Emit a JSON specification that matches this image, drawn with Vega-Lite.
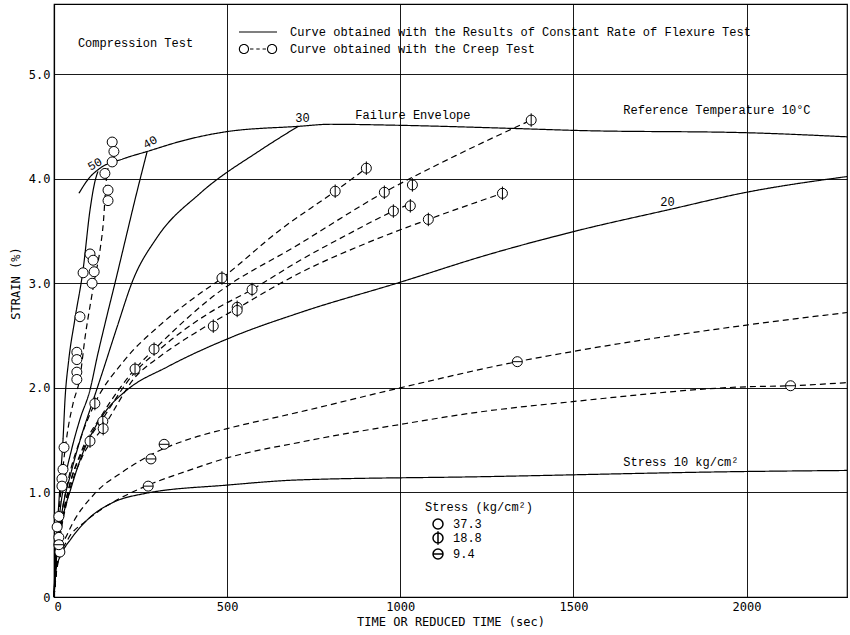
{
  "$schema": "https://vega.github.io/schema/vega-lite/v6.json",
  "width": 793,
  "height": 593,
  "autosize": {"type": "none"},
  "padding": {"left": 54, "top": 4, "right": 3, "bottom": 38},
  "background": "white",
  "config": {
    "view": {"stroke": "black", "strokeWidth": 1.2},
    "axis": {
      "domainColor": "black", "domainWidth": 1.2,
      "gridColor": "black", "gridWidth": 0.9, "gridOpacity": 1,
      "ticks": false,
      "labelFont": "DejaVu Sans Mono", "labelFontSize": 12, "labelColor": "black", "labelPadding": 4,
      "titleFont": "DejaVu Sans Mono", "titleFontSize": 12, "titleFontWeight": "normal", "titleColor": "black"
    },
    "legend": {
      "labelFont": "Liberation Mono", "labelFontSize": 12, "labelColor": "black",
      "titleFont": "Liberation Mono", "titleFontSize": 12, "titleFontWeight": "normal", "titleColor": "black",
      "padding": 0
    },
    "text": {"font": "Liberation Mono", "fontSize": 12, "color": "black"}
  },
  "datasets": {
    "curves": [
      {"curve": "f50", "kind": "flex", "x": 0, "y": 0},
      {"curve": "f50", "kind": "flex", "x": 3, "y": 0.3},
      {"curve": "f50", "kind": "flex", "x": 8, "y": 0.6},
      {"curve": "f50", "kind": "flex", "x": 14, "y": 0.9},
      {"curve": "f50", "kind": "flex", "x": 20, "y": 1.2},
      {"curve": "f50", "kind": "flex", "x": 26, "y": 1.5},
      {"curve": "f50", "kind": "flex", "x": 32, "y": 1.9},
      {"curve": "f50", "kind": "flex", "x": 42, "y": 2.25},
      {"curve": "f50", "kind": "flex", "x": 60, "y": 2.65},
      {"curve": "f50", "kind": "flex", "x": 84, "y": 3.13},
      {"curve": "f50", "kind": "flex", "x": 104, "y": 3.7},
      {"curve": "f50", "kind": "flex", "x": 118, "y": 3.97},
      {"curve": "f50", "kind": "flex", "x": 127, "y": 4.07},

      {"curve": "f40", "kind": "flex", "x": 0, "y": 0},
      {"curve": "f40", "kind": "flex", "x": 5, "y": 0.35},
      {"curve": "f40", "kind": "flex", "x": 15, "y": 0.75},
      {"curve": "f40", "kind": "flex", "x": 30, "y": 1.1},
      {"curve": "f40", "kind": "flex", "x": 50, "y": 1.4},
      {"curve": "f40", "kind": "flex", "x": 75, "y": 1.7},
      {"curve": "f40", "kind": "flex", "x": 104, "y": 1.98},
      {"curve": "f40", "kind": "flex", "x": 125, "y": 2.3},
      {"curve": "f40", "kind": "flex", "x": 150, "y": 2.65},
      {"curve": "f40", "kind": "flex", "x": 176, "y": 3.0},
      {"curve": "f40", "kind": "flex", "x": 205, "y": 3.4},
      {"curve": "f40", "kind": "flex", "x": 234, "y": 3.8},
      {"curve": "f40", "kind": "flex", "x": 269, "y": 4.26},

      {"curve": "f30", "kind": "flex", "x": 0, "y": 0},
      {"curve": "f30", "kind": "flex", "x": 8, "y": 0.45},
      {"curve": "f30", "kind": "flex", "x": 25, "y": 0.85},
      {"curve": "f30", "kind": "flex", "x": 50, "y": 1.2},
      {"curve": "f30", "kind": "flex", "x": 80, "y": 1.55},
      {"curve": "f30", "kind": "flex", "x": 110, "y": 1.85},
      {"curve": "f30", "kind": "flex", "x": 140, "y": 2.15},
      {"curve": "f30", "kind": "flex", "x": 182, "y": 2.58},
      {"curve": "f30", "kind": "flex", "x": 228, "y": 3.03},
      {"curve": "f30", "kind": "flex", "x": 298, "y": 3.44},
      {"curve": "f30", "kind": "flex", "x": 422, "y": 3.86},
      {"curve": "f30", "kind": "flex", "x": 595, "y": 4.27},
      {"curve": "f30", "kind": "flex", "x": 705, "y": 4.5},

      {"curve": "f20", "kind": "flex", "x": 0, "y": 0},
      {"curve": "f20", "kind": "flex", "x": 8, "y": 0.4},
      {"curve": "f20", "kind": "flex", "x": 25, "y": 0.75},
      {"curve": "f20", "kind": "flex", "x": 50, "y": 1.05},
      {"curve": "f20", "kind": "flex", "x": 80, "y": 1.35},
      {"curve": "f20", "kind": "flex", "x": 110, "y": 1.57},
      {"curve": "f20", "kind": "flex", "x": 150, "y": 1.78},
      {"curve": "f20", "kind": "flex", "x": 211, "y": 1.98},
      {"curve": "f20", "kind": "flex", "x": 327, "y": 2.2},
      {"curve": "f20", "kind": "flex", "x": 517, "y": 2.49},
      {"curve": "f20", "kind": "flex", "x": 711, "y": 2.72},
      {"curve": "f20", "kind": "flex", "x": 1000, "y": 3.01},
      {"curve": "f20", "kind": "flex", "x": 1250, "y": 3.27},
      {"curve": "f20", "kind": "flex", "x": 1520, "y": 3.51},
      {"curve": "f20", "kind": "flex", "x": 1771, "y": 3.7},
      {"curve": "f20", "kind": "flex", "x": 2000, "y": 3.87},
      {"curve": "f20", "kind": "flex", "x": 2290, "y": 4.02},

      {"curve": "f10", "kind": "flex", "x": 0, "y": 0},
      {"curve": "f10", "kind": "flex", "x": 5, "y": 0.25},
      {"curve": "f10", "kind": "flex", "x": 23, "y": 0.42},
      {"curve": "f10", "kind": "flex", "x": 50, "y": 0.56},
      {"curve": "f10", "kind": "flex", "x": 100, "y": 0.75},
      {"curve": "f10", "kind": "flex", "x": 168, "y": 0.9},
      {"curve": "f10", "kind": "flex", "x": 263, "y": 0.99},
      {"curve": "f10", "kind": "flex", "x": 500, "y": 1.07},
      {"curve": "f10", "kind": "flex", "x": 711, "y": 1.12},
      {"curve": "f10", "kind": "flex", "x": 1231, "y": 1.15},
      {"curve": "f10", "kind": "flex", "x": 2000, "y": 1.2},
      {"curve": "f10", "kind": "flex", "x": 2290, "y": 1.21},

      {"curve": "env", "kind": "flex", "x": 72, "y": 3.86},
      {"curve": "env", "kind": "flex", "x": 100, "y": 4.0},
      {"curve": "env", "kind": "flex", "x": 133, "y": 4.1},
      {"curve": "env", "kind": "flex", "x": 200, "y": 4.19},
      {"curve": "env", "kind": "flex", "x": 269, "y": 4.26},
      {"curve": "env", "kind": "flex", "x": 380, "y": 4.37},
      {"curve": "env", "kind": "flex", "x": 500, "y": 4.45},
      {"curve": "env", "kind": "flex", "x": 705, "y": 4.5},
      {"curve": "env", "kind": "flex", "x": 798, "y": 4.52},
      {"curve": "env", "kind": "flex", "x": 1000, "y": 4.51},
      {"curve": "env", "kind": "flex", "x": 1327, "y": 4.48},
      {"curve": "env", "kind": "flex", "x": 1520, "y": 4.46},
      {"curve": "env", "kind": "flex", "x": 1991, "y": 4.44},
      {"curve": "env", "kind": "flex", "x": 2290, "y": 4.4},

      {"curve": "c37", "kind": "creep", "x": 0, "y": 0},
      {"curve": "c37", "kind": "creep", "x": 4, "y": 0.3},
      {"curve": "c37", "kind": "creep", "x": 10, "y": 0.6},
      {"curve": "c37", "kind": "creep", "x": 18, "y": 0.95},
      {"curve": "c37", "kind": "creep", "x": 28, "y": 1.3},
      {"curve": "c37", "kind": "creep", "x": 40, "y": 1.6},
      {"curve": "c37", "kind": "creep", "x": 55, "y": 1.85},
      {"curve": "c37", "kind": "creep", "x": 75, "y": 2.1},
      {"curve": "c37", "kind": "creep", "x": 90, "y": 2.49},
      {"curve": "c37", "kind": "creep", "x": 105, "y": 2.8},
      {"curve": "c37", "kind": "creep", "x": 118, "y": 3.05},
      {"curve": "c37", "kind": "creep", "x": 133, "y": 3.32},
      {"curve": "c37", "kind": "creep", "x": 143, "y": 3.6},
      {"curve": "c37", "kind": "creep", "x": 150, "y": 3.95},
      {"curve": "c37", "kind": "creep", "x": 156, "y": 4.1},

      {"curve": "b1", "kind": "creep", "x": 0, "y": 0},
      {"curve": "b1", "kind": "creep", "x": 15, "y": 0.6},
      {"curve": "b1", "kind": "creep", "x": 40, "y": 1.1},
      {"curve": "b1", "kind": "creep", "x": 75, "y": 1.5},
      {"curve": "b1", "kind": "creep", "x": 118, "y": 1.85},
      {"curve": "b1", "kind": "creep", "x": 200, "y": 2.25},
      {"curve": "b1", "kind": "creep", "x": 306, "y": 2.6},
      {"curve": "b1", "kind": "creep", "x": 400, "y": 2.85},
      {"curve": "b1", "kind": "creep", "x": 485, "y": 3.05},
      {"curve": "b1", "kind": "creep", "x": 653, "y": 3.51},
      {"curve": "b1", "kind": "creep", "x": 812, "y": 3.88},
      {"curve": "b1", "kind": "creep", "x": 902, "y": 4.1},

      {"curve": "b2", "kind": "creep", "x": 0, "y": 0},
      {"curve": "b2", "kind": "creep", "x": 15, "y": 0.55},
      {"curve": "b2", "kind": "creep", "x": 40, "y": 1.0},
      {"curve": "b2", "kind": "creep", "x": 80, "y": 1.4},
      {"curve": "b2", "kind": "creep", "x": 140, "y": 1.75},
      {"curve": "b2", "kind": "creep", "x": 234, "y": 2.18},
      {"curve": "b2", "kind": "creep", "x": 306, "y": 2.42},
      {"curve": "b2", "kind": "creep", "x": 450, "y": 2.85},
      {"curve": "b2", "kind": "creep", "x": 711, "y": 3.38},
      {"curve": "b2", "kind": "creep", "x": 954, "y": 3.87},
      {"curve": "b2", "kind": "creep", "x": 1160, "y": 4.22},
      {"curve": "b2", "kind": "creep", "x": 1378, "y": 4.56},

      {"curve": "b3", "kind": "creep", "x": 0, "y": 0},
      {"curve": "b3", "kind": "creep", "x": 15, "y": 0.55},
      {"curve": "b3", "kind": "creep", "x": 40, "y": 1.0},
      {"curve": "b3", "kind": "creep", "x": 80, "y": 1.38},
      {"curve": "b3", "kind": "creep", "x": 140, "y": 1.7},
      {"curve": "b3", "kind": "creep", "x": 234, "y": 2.15},
      {"curve": "b3", "kind": "creep", "x": 306, "y": 2.37},
      {"curve": "b3", "kind": "creep", "x": 450, "y": 2.72},
      {"curve": "b3", "kind": "creep", "x": 572, "y": 2.94},
      {"curve": "b3", "kind": "creep", "x": 711, "y": 3.22},
      {"curve": "b3", "kind": "creep", "x": 850, "y": 3.47},
      {"curve": "b3", "kind": "creep", "x": 980, "y": 3.69},
      {"curve": "b3", "kind": "creep", "x": 1029, "y": 3.76},

      {"curve": "b4", "kind": "creep", "x": 0, "y": 0},
      {"curve": "b4", "kind": "creep", "x": 15, "y": 0.5},
      {"curve": "b4", "kind": "creep", "x": 40, "y": 0.95},
      {"curve": "b4", "kind": "creep", "x": 80, "y": 1.33},
      {"curve": "b4", "kind": "creep", "x": 142, "y": 1.62},
      {"curve": "b4", "kind": "creep", "x": 234, "y": 2.1},
      {"curve": "b4", "kind": "creep", "x": 306, "y": 2.3},
      {"curve": "b4", "kind": "creep", "x": 420, "y": 2.55},
      {"curve": "b4", "kind": "creep", "x": 529, "y": 2.76},
      {"curve": "b4", "kind": "creep", "x": 711, "y": 3.1},
      {"curve": "b4", "kind": "creep", "x": 900, "y": 3.38},
      {"curve": "b4", "kind": "creep", "x": 1081, "y": 3.61},
      {"curve": "b4", "kind": "creep", "x": 1295, "y": 3.86},

      {"curve": "c1", "kind": "creep", "x": 0, "y": 0},
      {"curve": "c1", "kind": "creep", "x": 10, "y": 0.35},
      {"curve": "c1", "kind": "creep", "x": 40, "y": 0.61},
      {"curve": "c1", "kind": "creep", "x": 118, "y": 0.99},
      {"curve": "c1", "kind": "creep", "x": 200, "y": 1.2},
      {"curve": "c1", "kind": "creep", "x": 263, "y": 1.33},
      {"curve": "c1", "kind": "creep", "x": 318, "y": 1.42},
      {"curve": "c1", "kind": "creep", "x": 400, "y": 1.52},
      {"curve": "c1", "kind": "creep", "x": 500, "y": 1.61},
      {"curve": "c1", "kind": "creep", "x": 711, "y": 1.77},
      {"curve": "c1", "kind": "creep", "x": 1000, "y": 2.0},
      {"curve": "c1", "kind": "creep", "x": 1338, "y": 2.25},
      {"curve": "c1", "kind": "creep", "x": 1520, "y": 2.36},
      {"curve": "c1", "kind": "creep", "x": 2000, "y": 2.6},
      {"curve": "c1", "kind": "creep", "x": 2290, "y": 2.72},

      {"curve": "c2", "kind": "creep", "x": 0, "y": 0},
      {"curve": "c2", "kind": "creep", "x": 10, "y": 0.3},
      {"curve": "c2", "kind": "creep", "x": 40, "y": 0.55},
      {"curve": "c2", "kind": "creep", "x": 90, "y": 0.72},
      {"curve": "c2", "kind": "creep", "x": 147, "y": 0.86},
      {"curve": "c2", "kind": "creep", "x": 200, "y": 0.96},
      {"curve": "c2", "kind": "creep", "x": 272, "y": 1.07},
      {"curve": "c2", "kind": "creep", "x": 380, "y": 1.2},
      {"curve": "c2", "kind": "creep", "x": 500, "y": 1.33},
      {"curve": "c2", "kind": "creep", "x": 711, "y": 1.48},
      {"curve": "c2", "kind": "creep", "x": 1000, "y": 1.65},
      {"curve": "c2", "kind": "creep", "x": 1231, "y": 1.77},
      {"curve": "c2", "kind": "creep", "x": 1503, "y": 1.87},
      {"curve": "c2", "kind": "creep", "x": 2000, "y": 2.01},
      {"curve": "c2", "kind": "creep", "x": 2127, "y": 2.02},
      {"curve": "c2", "kind": "creep", "x": 2290, "y": 2.05}
    ],
    "points": [
      {"stress": "37.3", "x": 168, "y": 4.35},
      {"stress": "37.3", "x": 173, "y": 4.26},
      {"stress": "37.3", "x": 168, "y": 4.16},
      {"stress": "37.3", "x": 147, "y": 4.05},
      {"stress": "37.3", "x": 156, "y": 3.89},
      {"stress": "37.3", "x": 156, "y": 3.79},
      {"stress": "37.3", "x": 104, "y": 3.28},
      {"stress": "37.3", "x": 113, "y": 3.22},
      {"stress": "37.3", "x": 84, "y": 3.1},
      {"stress": "37.3", "x": 116, "y": 3.11},
      {"stress": "37.3", "x": 110, "y": 3.0},
      {"stress": "37.3", "x": 75, "y": 2.68},
      {"stress": "37.3", "x": 66, "y": 2.34},
      {"stress": "37.3", "x": 66, "y": 2.27},
      {"stress": "37.3", "x": 66, "y": 2.15},
      {"stress": "37.3", "x": 66, "y": 2.08},
      {"stress": "37.3", "x": 29, "y": 1.43},
      {"stress": "37.3", "x": 26, "y": 1.22},
      {"stress": "37.3", "x": 23, "y": 1.13},
      {"stress": "37.3", "x": 23, "y": 1.06},
      {"stress": "37.3", "x": 14, "y": 0.77},
      {"stress": "37.3", "x": 9, "y": 0.67},
      {"stress": "37.3", "x": 14, "y": 0.57},
      {"stress": "37.3", "x": 17, "y": 0.43},
      {"stress": "18.8", "x": 104, "y": 1.49},
      {"stress": "18.8", "x": 118, "y": 1.85},
      {"stress": "18.8", "x": 141, "y": 1.68},
      {"stress": "18.8", "x": 142, "y": 1.61},
      {"stress": "18.8", "x": 234, "y": 2.18},
      {"stress": "18.8", "x": 289, "y": 2.37},
      {"stress": "18.8", "x": 460, "y": 2.59},
      {"stress": "18.8", "x": 485, "y": 3.05},
      {"stress": "18.8", "x": 529, "y": 2.77},
      {"stress": "18.8", "x": 529, "y": 2.74},
      {"stress": "18.8", "x": 572, "y": 2.94},
      {"stress": "18.8", "x": 812, "y": 3.88},
      {"stress": "18.8", "x": 902, "y": 4.1},
      {"stress": "18.8", "x": 954, "y": 3.87},
      {"stress": "18.8", "x": 980, "y": 3.69},
      {"stress": "18.8", "x": 1029, "y": 3.74},
      {"stress": "18.8", "x": 1035, "y": 3.94},
      {"stress": "18.8", "x": 1081, "y": 3.61},
      {"stress": "18.8", "x": 1295, "y": 3.86},
      {"stress": "18.8", "x": 1378, "y": 4.56},
      {"stress": "9.4", "x": 14, "y": 0.5},
      {"stress": "9.4", "x": 272, "y": 1.06},
      {"stress": "9.4", "x": 280, "y": 1.32},
      {"stress": "9.4", "x": 318, "y": 1.46},
      {"stress": "9.4", "x": 1338, "y": 2.25},
      {"stress": "9.4", "x": 2127, "y": 2.02}
    ],
    "labels": [
      {"text": "Compression Test", "x": 69, "y": 5.3},
      {"text": "Failure Envelope", "x": 870, "y": 4.61},
      {"text": "Reference Temperature 10°C", "x": 1644, "y": 4.66},
      {"text": "30", "x": 697, "y": 4.58},
      {"text": "20", "x": 1751, "y": 3.78},
      {"text": "Stress 10 kg/cm²", "x": 1644, "y": 1.29}
    ],
    "rotlabels": [
      {"text": "50", "x": 118, "y": 4.14},
      {"text": "40", "x": 277, "y": 4.35}
    ]
  },
  "layer": [
    {
      "data": {"name": "curves"},
      "mark": {"type": "line", "interpolate": "monotone", "strokeWidth": 1.2},
      "encoding": {
        "x": {
          "field": "x", "type": "quantitative",
          "scale": {"domain": [0, 2290], "nice": false, "zero": false},
          "axis": {"values": [0, 500, 1000, 1500, 2000], "format": "d", "title": "TIME OR REDUCED TIME (sec)", "titlePadding": 4}
        },
        "y": {
          "field": "y", "type": "quantitative",
          "scale": {"domain": [0, 5.67], "nice": false, "zero": false},
          "axis": {"values": [0, 1, 2, 3, 4, 5], "labelExpr": "datum.value == 0 ? '0' : format(datum.value, '.1f')", "labelFlush": false, "title": "STRAIN (%)", "titlePadding": 6, "titleY": 279}
        },
        "detail": {"field": "curve", "type": "nominal"},
        "strokeDash": {
          "field": "kind", "type": "nominal",
          "scale": {"domain": ["flex", "creep"], "range": [[1, 0], [6, 4]]},
          "legend": null
        },
        "color": {
          "field": "kind", "type": "nominal",
          "scale": {"domain": ["flex", "creep"], "range": ["black", "black"]},
          "legend": {
            "orient": "none", "legendX": 184, "legendY": 8, "title": null,
            "values": ["flex"],
            "labelExpr": "'Curve obtained with the Results of Constant Rate of Flexure Test'",
            "labelLimit": 700,
            "symbolSize": 1444,
            "symbolStrokeWidth": 1.1,
            "labelOffset": 12,
            "encode": {
              "symbols": {
                "update": {
                  "shape": {"value": "M-1,0L1,0"},
                  "stroke": {"value": "black"},
                  "fill": {"value": "transparent"}
                }
              }
            }
          }
        },
        "opacity": {
          "field": "kind", "type": "nominal",
          "scale": {"domain": ["creep", "flex"], "range": [1, 1]},
          "legend": {
            "orient": "none", "legendX": 184, "legendY": 25, "title": null,
            "values": ["creep"],
            "labelExpr": "'Curve obtained with the Creep Test'",
            "labelLimit": 700,
            "symbolSize": 1444,
            "symbolStrokeWidth": 1.1,
            "labelOffset": 12,
            "encode": {
              "symbols": {
                "update": {
                  "shape": {"value": "M-0.5,0A0.24,0.24 0 1,1 -0.98,0A0.24,0.24 0 1,1 -0.5,0M-0.42,0L-0.24,0M-0.09,0L0.09,0M0.24,0L0.42,0M0.98,0A0.24,0.24 0 1,1 0.5,0A0.24,0.24 0 1,1 0.98,0"},
                  "stroke": {"value": "black"},
                  "fill": {"value": "transparent"},
                  "opacity": {"value": 1},
                  "strokeDash": {"value": [1, 0]}
                }
              }
            }
          }
        }
      }
    },
    {
      "data": {"name": "points"},
      "mark": {"type": "point", "filled": true, "fill": "white", "stroke": "black", "strokeWidth": 1, "size": 100, "opacity": 1},
      "encoding": {
        "x": {"field": "x", "type": "quantitative"},
        "y": {"field": "y", "type": "quantitative"},
        "shape": {
          "field": "stress", "type": "nominal",
          "scale": {
            "domain": ["37.3", "18.8", "9.4"],
            "range": [
              "M1,0A1,1 0 1,1 -1,0A1,1 0 1,1 1,0Z",
              "M1,0A1,1 0 1,1 -1,0A1,1 0 1,1 1,0ZM0,-1.35L0,1.35",
              "M1,0A1,1 0 1,1 -1,0A1,1 0 1,1 1,0ZM-1,0L1,0"
            ]
          },
          "legend": {
            "orient": "none", "legendX": 371, "legendY": 498,
            "title": "Stress (kg/cm²)",
            "titlePadding": 4,
            "symbolSize": 100,
            "symbolOffset": 7,
            "labelOffset": 9,
            "rowPadding": -5,
            "labelExpr": "datum.label == '9.4' ? '\u00a09.4' : datum.label",
            "encode": {
              "symbols": {
                "update": {
                  "fill": {"value": "white"},
                  "stroke": {"value": "black"},
                  "strokeWidth": {"value": 1},
                  "opacity": {"value": 1},
                  "fillOpacity": {"value": 1},
                  "strokeOpacity": {"value": 1}
                }
              }
            }
          }
        }
      }
    },
    {
      "data": {"name": "labels"},
      "mark": {"type": "text", "align": "left", "baseline": "middle"},
      "encoding": {
        "x": {"field": "x", "type": "quantitative"},
        "y": {"field": "y", "type": "quantitative"},
        "text": {"field": "text", "type": "nominal"}
      }
    },
    {
      "data": {"name": "rotlabels"},
      "mark": {"type": "text", "align": "center", "baseline": "middle", "angle": 330},
      "encoding": {
        "x": {"field": "x", "type": "quantitative"},
        "y": {"field": "y", "type": "quantitative"},
        "text": {"field": "text", "type": "nominal"}
      }
    }
  ]
}
